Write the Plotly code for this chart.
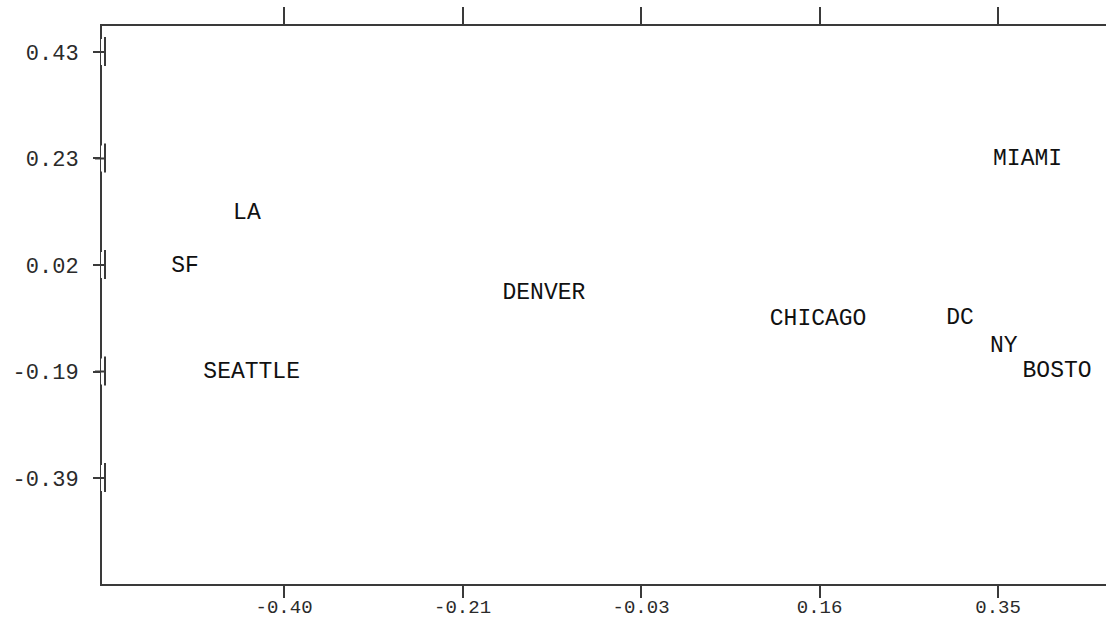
import plotly.graph_objects as go

# City coordinates in the two-dimensional scaling solution
cities = ["MIAMI", "LA", "SF", "DENVER", "CHICAGO", "DC", "NY", "SEATTLE", "BOSTO"]
dim1 = [0.381, -0.439, -0.504, -0.127, 0.161, 0.310, 0.356, -0.434, 0.412]
dim2 = [0.224, 0.120, 0.018, -0.034, -0.084, -0.082, -0.136, -0.186, -0.184]

# Axis ticks and their printed labels
x_ticks = [-0.40, -0.2125, -0.025, 0.1625, 0.35]
x_tick_text = ["-0.40", "-0.21", "-0.03", "0.16", "0.35"]
y_ticks = [0.43, 0.225, 0.02, -0.185, -0.39]
y_tick_text = ["0.43", "0.23", "0.02", "-0.19", "-0.39"]

x_range = [-0.5912, 0.4634]
y_range = [-0.594, 0.480]

ink = "#3a3a3a"
mono = "Liberation Mono, Courier New, monospace"

fig = go.Figure()
fig.add_trace(go.Scatter(
    x=dim1, y=dim2, text=cities, mode="text",
    textposition="middle center",
    textfont=dict(family=mono, size=23, color="#111111"),
    hoverinfo="text", showlegend=False,
))
# invisible trace so the top axis is drawn
fig.add_trace(go.Scatter(x=[x_range[0]], y=[y_range[0]], xaxis="x2",
                         mode="markers", marker=dict(opacity=0),
                         hoverinfo="skip", showlegend=False))

# small offset brackets on the left spine at each y tick
shapes = []
for t in y_ticks:
    shapes.append(dict(type="line", xref="paper", yref="y",
                       xsizemode="pixel", xanchor=0, x0=0, x1=0,
                       ysizemode="pixel", yanchor=t, y0=-13, y1=13,
                       line=dict(color="white", width=2), layer="above"))
    shapes.append(dict(type="line", xref="paper", yref="y",
                       xsizemode="pixel", xanchor=0, x0=3, x1=3,
                       ysizemode="pixel", yanchor=t, y0=-14, y1=15,
                       line=dict(color=ink, width=2), layer="above"))
    shapes.append(dict(type="line", xref="paper", yref="y",
                       xsizemode="pixel", xanchor=0, x0=-7, x1=3,
                       ysizemode="pixel", yanchor=t, y0=0, y1=0,
                       line=dict(color=ink, width=2), layer="above"))

fig.update_layout(
    width=1106, height=620,
    template="none",
    paper_bgcolor="white", plot_bgcolor="white",
    margin=dict(l=102, r=0, t=26, b=36),
    showlegend=False,
    shapes=shapes,
    xaxis=dict(range=x_range, tickvals=x_ticks, ticktext=x_tick_text,
               ticks="outside", ticklen=12, tickwidth=2, tickcolor=ink,
               showline=True, linecolor=ink, linewidth=2,
               showgrid=False, zeroline=False, automargin=False,
               tickfont=dict(family=mono, size=19, color="#2a2a2a"),
               ticklabelstandoff=-8),
    xaxis2=dict(range=x_range, tickvals=x_ticks, showticklabels=False,
                overlaying="x", side="top", anchor="y",
                ticks="outside", ticklen=17, tickwidth=2, tickcolor=ink,
                showline=True, linecolor=ink, linewidth=2,
                showgrid=False, zeroline=False, automargin=False),
    yaxis=dict(range=y_range, tickvals=y_ticks, ticktext=y_tick_text,
               ticks="outside", ticklen=7, tickwidth=2, tickcolor=ink,
               showline=True, linecolor=ink, linewidth=2,
               showgrid=False, zeroline=False, automargin=False,
               tickfont=dict(family=mono, size=22, color="#2a2a2a"),
               ticklabelstandoff=10),
)

fig.write_html("out.html")
